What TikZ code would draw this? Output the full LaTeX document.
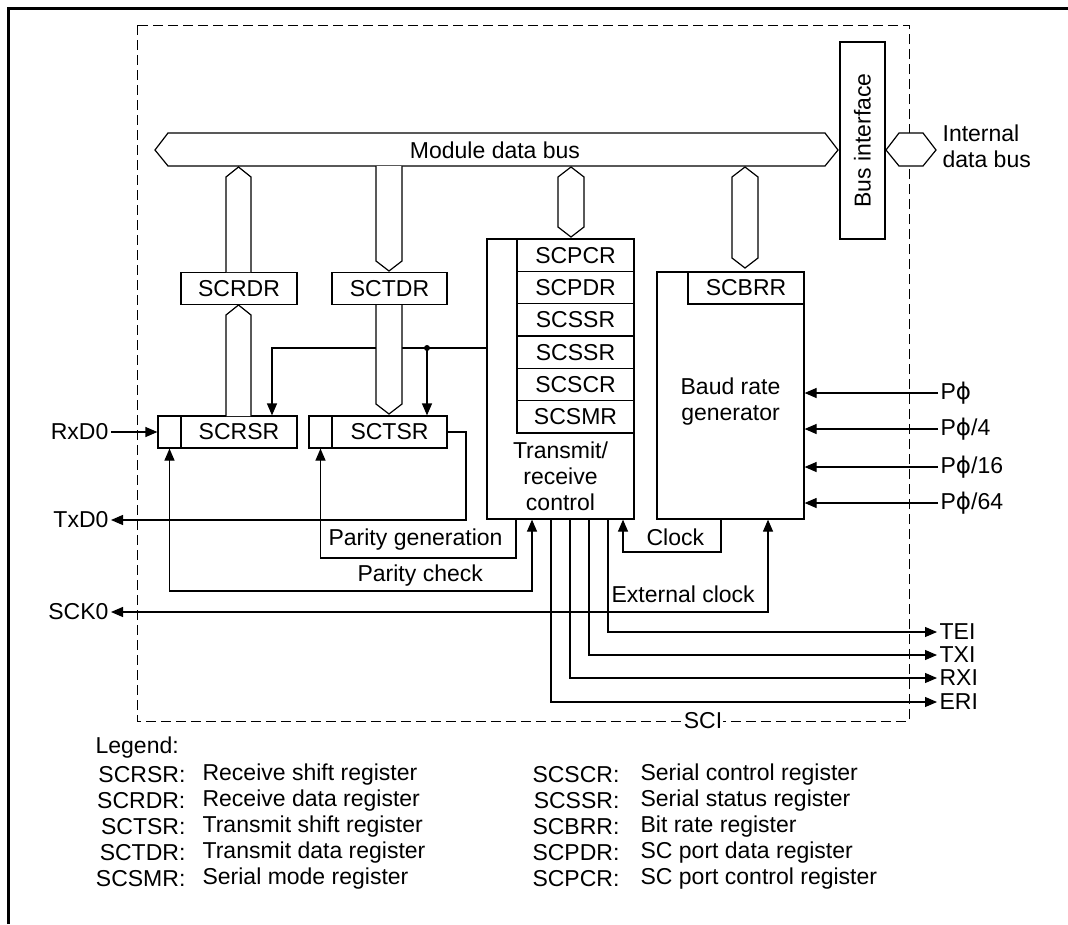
\documentclass[tikz,border=0pt]{standalone}
\usepackage{fontspec}
\setmainfont{Liberation Sans}
\newfontfamily\phifont{DejaVu Sans}
\usetikzlibrary{arrows.meta,calc}
\newcommand{\Pphi}{P{\phifont\char"03D5}}

\begin{document}
\begin{tikzpicture}[x=1pt, y=-1pt, line width=1.2pt,
  every node/.style={font=\fontsize{23}{26}\selectfont, inner sep=2pt},
  reg/.style={draw, fill=white, inner sep=0pt, minimum height=32.5pt},
  sig/.style={-{Triangle[length=12pt, width=10pt]}},
  bisig/.style={{Triangle[length=12pt, width=10pt]}-{Triangle[length=12pt, width=10pt]}},
  bus/.style={draw, fill=white, line join=miter},
  sci/.style={draw, dash pattern=on 10pt off 5pt, line width=1pt}]

  \useasboundingbox (0,0) rectangle (1068,924);

  % page frame and module outline
  \draw[line width=3pt] (8,924) -- (8,8) -- (1068,8);
  \draw[sci] (137,25) rectangle (909,721);
  \node[fill=white, inner sep=1pt] (sci) at (703,721) {SCI};

  % module data bus
  \draw[bus] (155,150) -- (168,133) -- (825,133) -- (838,150) -- (825,166) -- (168,166) -- cycle;
  \node (mdb) at (495,150) {Module data bus};

  % bus interface and internal data bus
  \node[draw, minimum width=197pt, minimum height=45pt, inner sep=0pt, rotate=90] (busif) at (862.5,140.5) {Bus interface};
  \draw[bus] (886,150) -- (899,133) -- (923,133) -- (936,150) -- (923,166) -- (899,166) -- cycle;
  \node[anchor=west, align=left] (idb) at (940,146) {Internal\\data bus};

  % data and shift registers
  \node[reg, minimum width=116pt] (scrdr) at (239,288.5) {SCRDR};
  \node[reg, minimum width=115pt] (sctdr) at (389.5,288.5) {SCTDR};
  \node[reg, minimum width=116pt, minimum height=32pt] (scrsr) at (239,432) {SCRSR};
  \node[reg, minimum width=23pt, minimum height=32pt] (rsrbit) at (169.5,432) {};
  \node[reg, minimum width=115pt, minimum height=32pt] (sctsr) at (389.5,432) {SCTSR};
  \node[reg, minimum width=23pt, minimum height=32pt] (tsrbit) at (320.5,432) {};

  % transmit/receive control with its registers
  \node[draw, minimum width=147pt, minimum height=280pt, inner sep=0pt] (trc) at (560.5,379) {};
  \foreach \name [count=\i from 0] in {SCPCR,SCPDR,SCSSR,SCSSR,SCSCR,SCSMR}
    \node[reg, minimum width=117pt, minimum height=32.33pt] (r\i) at (575.5,{255.17+32.33*\i}) {\name};
  \node[align=center] (trctext) at (560.5,476) {Transmit/\\receive\\control};

  % baud rate generator
  \node[draw, minimum width=147pt, minimum height=247pt, inner sep=0pt] (brg) at (730.5,395.5) {};
  \node[reg, minimum width=116pt, minimum height=32pt] (scbrr) at (746,288) {SCBRR};
  \node[align=center] (brgtext) at (730.5,402) {Baud rate\\generator};

  % control lines to the shift registers
  \coordinate (tap) at (427,348);
  \draw[sig] (trc.west |- tap) -| (scrsr.north -| 272,0);
  \draw[sig] (tap) -- (tap |- sctsr.north);
  \fill (tap) circle (3pt);

  % vertical bus arrows
  \draw[bus] (226,272) -- (226,177) -- (238.5,167) -- (251,177) -- (251,272);
  \draw[bus] (226,416) -- (226,315) -- (238.5,305) -- (251,315) -- (251,416);
  \draw[bus] (376,166) -- (376,261) -- (389,271) -- (402,261) -- (402,166);
  \draw[bus] (376,305) -- (376,404) -- (389,414) -- (402,404) -- (402,305);
  \draw[bus] (571,167) -- (584,177) -- (584,227) -- (571,237) -- (558,227) -- (558,177) -- cycle;
  \draw[bus] (745,167) -- (758,177) -- (758,258) -- (745,268) -- (732,258) -- (732,177) -- cycle;

  % serial pins
  \node[anchor=east] (rxd) at (111,432) {RxD0};
  \node[anchor=east] (txd) at (111,520) {TxD0};
  \node[anchor=east] (sck) at (111,612) {SCK0};
  \draw[sig] (rxd.east) -- (rsrbit.west);
  \draw[sig] (sctsr.east) -- (466,432) |- (txd.east);
  \draw[bisig] (sck.east) -| (brg.south -| 768,0);
  \node[anchor=west] (extlbl) at (609,594) {External clock};

  % parity and clock paths
  \draw[sig] (trc.south -| 516,0) -- (516,558) -| (tsrbit.south);
  \node[anchor=west] (pgen) at (326,540) {Parity generation};
  \draw[bisig] (trc.south -| 532,0) -- (532,591) -| (rsrbit.south);
  \node[anchor=west] (pchk) at (355,576) {Parity check};
  \draw[sig] (brg.south -| 721,0) -- (721,552) -| (trc.south -| 623,0);
  \node[anchor=west] (clklbl) at (644,537) {Clock};

  % clock inputs
  \foreach \y/\lab [count=\k] in {393/{\Pphi}, 429/{\Pphi/4}, 467/{\Pphi/16}, 503/{\Pphi/64}} {
    \node[anchor=west] (clk\k) at (938,\y) {\lab};
    \draw[sig] (clk\k.west) -- (brg.east |- clk\k.west);
  }

  % interrupt requests
  \foreach \x/\y/\name in {608/632/TEI, 589/655/TXI, 570/678/RXI, 551/702/ERI} {
    \node[anchor=west] (\name) at (937,\y) {\name};
    \draw[sig] (trc.south -| \x,0) |- (\name.west);
  }

  % legend
  \node[anchor=west] (legend) at (93,748) {Legend:};
  \foreach \key/\desc [count=\i from 0] in {SCRSR/Receive shift register, SCRDR/Receive data register,
      SCTSR/Transmit shift register, SCTDR/Transmit data register, SCSMR/Serial mode register} {
    \node[anchor=east] (lk\i) at (188,{775+26*\i}) {\key:};
    \node[anchor=west] (ld\i) at (200,{775+26*\i}) {\desc};
  }
  \foreach \key/\desc [count=\i from 0] in {SCSCR/Serial control register, SCSSR/Serial status register,
      SCBRR/Bit rate register, SCPDR/SC port data register, SCPCR/SC port control register} {
    \node[anchor=east] (rk\i) at (622,{775+26*\i}) {\key:};
    \node[anchor=west] (rd\i) at (638,{775+26*\i}) {\desc};
  }
\end{tikzpicture}
\end{document}
